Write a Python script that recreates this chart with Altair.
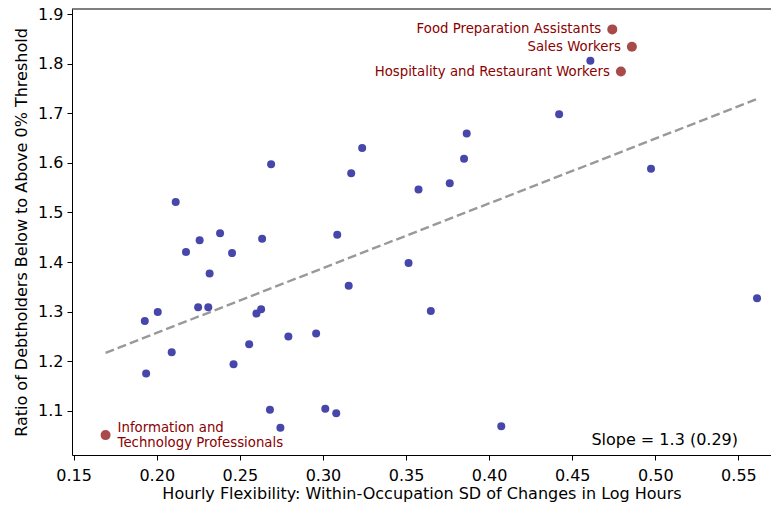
import altair as alt
import pandas as pd

# Occupation-level points (hourly flexibility, debtholder ratio)
flex = [0.1928, 0.2006, 0.1936, 0.2090, 0.2114, 0.2176, 0.2258, 0.2381, 0.2453, 0.2318,
        0.2249, 0.2310, 0.2462, 0.2556, 0.2600, 0.2628, 0.2634, 0.2688, 0.2681, 0.2744,
        0.2792, 0.2959, 0.3014, 0.3080, 0.3086, 0.3155, 0.3170, 0.3236, 0.3515, 0.3575,
        0.3649, 0.3763, 0.3849, 0.3865, 0.4073, 0.4421, 0.4609, 0.4974, 0.5612]
ratio = [1.281, 1.299, 1.175, 1.218, 1.521, 1.420, 1.444, 1.458, 1.418, 1.377,
         1.309, 1.309, 1.194, 1.234, 1.296, 1.305, 1.447, 1.597, 1.102, 1.066,
         1.250, 1.256, 1.104, 1.095, 1.455, 1.352, 1.579, 1.630, 1.398, 1.546,
         1.301, 1.559, 1.608, 1.659, 1.069, 1.698, 1.806, 1.588, 1.327]

# Highlighted occupations
hl_names = ["Food Preparation Assistants", "Sales Workers",
            "Hospitality and Restaurant Workers",
            "Information and\nTechnology Professionals"]
hl_flex = [0.4741, 0.4859, 0.4793, 0.1692]
hl_ratio = [1.869, 1.834, 1.784, 1.051]
hl_side = ["left", "left", "left", "right"]

# Fitted line endpoints
fit_x = [0.1692, 0.5612]
fit_y = [1.217, 1.7286]
slope_text = "Slope = 1.3 (0.29)"

x_ticks = [0.15, 0.20, 0.25, 0.30, 0.35, 0.40, 0.45, 0.50, 0.55]
y_ticks = [1.1, 1.2, 1.3, 1.4, 1.5, 1.6, 1.7, 1.8, 1.9]

W, H = 699, 446

df = pd.DataFrame({"x": flex, "y": ratio})
df_hl = pd.DataFrame({"x": hl_flex, "y": hl_ratio, "name": hl_names, "side": hl_side})
df_fit = pd.DataFrame({"x": fit_x, "y": fit_y})

xscale = alt.Scale(domain=[0.149, 0.5696], nice=False, zero=False)
yscale = alt.Scale(domain=[1.0109, 1.9101], nice=False, zero=False)

X = alt.X("x:Q", scale=xscale,
          axis=alt.Axis(values=x_ticks, format=".2f", labelPadding=7,
                        title="Hourly Flexibility: Within-Occupation SD of Changes in Log Hours",
                        titleBaseline="alphabetic", titleY=43))
Y = alt.Y("y:Q", scale=yscale,
          axis=alt.Axis(values=y_ticks, format=".1f", labelPadding=4,
                        title="Ratio of Debtholders Below to Above 0% Threshold",
                        titleBaseline="alphabetic", titleX=-46))

pts = alt.Chart(df).mark_circle(size=64, color="#4747ab", opacity=1).encode(x=X, y=Y)
hl = alt.Chart(df_hl).mark_circle(size=100, color="#a84a4a", opacity=1).encode(x=X, y=Y)
fit = alt.Chart(df_fit).mark_line(color="#999999", strokeWidth=2.4,
                                  strokeDash=[9, 4]).encode(x=X, y=Y)

lab_left = alt.Chart(df_hl).transform_filter(alt.datum.side == "left").mark_text(
    align="right", baseline="middle", dx=-11, fontSize=13.3, font="DejaVu Sans",
    color="#8b0000").encode(x=X, y=Y, text="name:N")
lab_right = alt.Chart(df_hl).transform_filter(alt.datum.side == "right").mark_text(
    align="left", baseline="middle", dx=12, dy=-7.5, fontSize=13.3, font="DejaVu Sans",
    color="#8b0000", lineBreak="\n", lineHeight=15).encode(x=X, y=Y, text="name:N")

slope = alt.Chart(pd.DataFrame({"t": [slope_text]})).mark_text(
    align="right", baseline="alphabetic", fontSize=16, font="DejaVu Sans",
    color="black").encode(x=alt.value(666), y=alt.value(436), text="t:N")

top = alt.Chart(pd.DataFrame({"a": [0]})).mark_rule(color="black", strokeWidth=1).encode(
    x=alt.value(0), x2=alt.value(W), y=alt.value(0))

chart = alt.layer(fit, pts, hl, lab_left, lab_right, slope, top).properties(
    width=W, height=H,
    autosize=alt.AutoSizeParams(type="none"),
    padding={"left": 64, "top": 1, "right": 0, "bottom": 53},
).configure_view(stroke=None).configure_axis(
    grid=False,
    labelFont="DejaVu Sans", labelFontSize=16, labelColor="black",
    titleFont="DejaVu Sans", titleFontSize=16, titleFontWeight="normal", titleColor="black",
    domainColor="black", domainWidth=1, tickColor="black", tickWidth=1, tickSize=5,
)

chart.save("out.html", embed_options={"renderer": "svg", "actions": False})
